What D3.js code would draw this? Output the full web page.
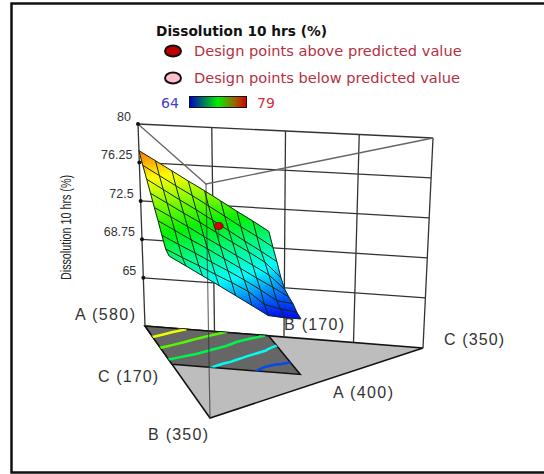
<!DOCTYPE html>
<html>
<head>
<meta charset="utf-8">
<script src="https://cdn.jsdelivr.net/npm/d3@7"></script>
<style>
  html, body { margin: 0; padding: 0; background: #fff; }
  svg { display: block; }
  text { font-family: "Liberation Sans", Arial, sans-serif; }
</style>
</head>
<body>
<div id="chart"></div>
<script>
// values
const zTicks = [65, 68.75, 72.5, 76.25, 80];
const wallC = [215, 260, 305];
const legendLabels = ['Design points above predicted value', 'Design points below predicted value'];
const legendRange = [64, 79];
const contourLevels = [75, 72.8, 70.5, 68.2, 66];

// constraint region on the floor (A, B, C)
const regionA = [580, 170, 170];
const regionB = [500, 170, 250];
const regionC = [422, 245, 253];
const regionD = [505, 245, 170];

// response on the region: rows go from regionA/regionB to regionD/regionC
const zGrid = [
  [77.4, 76.5, 75.6, 74.7, 73.85, 72.95, 72.05, 71.2, 70.3],
  [76.3, 75.4, 74.5, 73.65, 72.75, 71.85, 70.95, 70.1, 69.2],
  [75.3, 74.4, 73.5, 72.65, 71.75, 70.85, 69.95, 69.1, 68.2],
  [74.3, 73.45, 72.6, 71.8, 70.95, 70.1, 69.3, 68.45, 67.1],
  [73.3, 72.5, 71.7, 70.85, 70.05, 69.25, 68.45, 67.65, 66.4],
  [72.4, 71.6, 70.8, 70.05, 69.25, 68.45, 67.65, 66.9, 66.1],
  [71.4, 70.65, 69.95, 69.2, 68.5, 67.75, 66.95, 66.05, 65.9],
  [70.5, 69.8, 69.15, 68.45, 67.8, 67.1, 66.0, 65.7, 65.5],
  [70.2, 69.4, 68.6, 67.8, 67.0, 66.2, 65.4, 65.3, 65.3]
];

// the one design point
const designPoint = [503, 207, 210];
const designActual = 71.9;
const designPredicted = 70.6;

const width = 544;
const height = 474;
const zBase = 60.3;

// corners of the box in the picture
const floorPx = {a: [145, 326], b: [210, 418], c: [423, 348]};
const topPx = {a: [138, 124], b: [206, 184], c: [433, 138]};

const scaleA = d3.scaleLinear().domain([400, 580]).range([0, 1]);
const scaleB = d3.scaleLinear().domain([170, 350]).range([0, 1]);
const scaleC = d3.scaleLinear().domain([170, 350]).range([0, 1]);
const scaleZ = d3.scaleLinear().domain([zBase, 80]).range([0, 1]);

const color = d3.scaleLinear()
  .domain([65.2, 68, 71.5, 75.25, 79])
  .range(['#0000f0', '#00ffff', '#00f000', '#ffff00', '#ff0000'])
  .clamp(true);

function project(p, z) {
  const a = scaleA(p[0]), b = scaleB(p[1]), c = scaleC(p[2]), t = scaleZ(z);
  const mix = i => {
    const lo = a * floorPx.a[i] + b * floorPx.b[i] + c * floorPx.c[i];
    const hi = a * topPx.a[i] + b * topPx.b[i] + c * topPx.c[i];
    return lo + (hi - lo) * t;
  };
  return [mix(0), mix(1)];
}

// u runs along a row, v along a column, both 0..1
function regionPoint(u, v) {
  return [0, 1, 2].map(i =>
    (1 - v) * ((1 - u) * regionA[i] + u * regionB[i]) +
    v * ((1 - u) * regionD[i] + u * regionC[i]));
}

function gridZ(x, y) {
  const i = Math.min(Math.floor(x), 7), j = Math.min(Math.floor(y), 7);
  const fx = x - i, fy = y - j;
  return (1 - fy) * ((1 - fx) * zGrid[j][i] + fx * zGrid[j][i + 1]) +
    fy * ((1 - fx) * zGrid[j + 1][i] + fx * zGrid[j + 1][i + 1]);
}

const surfacePx = (x, y) => project(regionPoint(x / 8, y / 8), gridZ(x, y));

const line = d3.line();
const svg = d3.select('#chart').append('svg').attr('width', width).attr('height', height);

// frame is open on the right, it runs off the picture
svg.append('path').attr('d', 'M544,3.5H11.5V472.5H544')
  .attr('fill', 'none').attr('stroke', '#111').attr('stroke-width', 2.5);

// FLOOR
const floorVerts = [[580, 170, 170], [400, 350, 170], [400, 170, 350]];
svg.append('path')
  .attr('d', line(floorVerts.map(p => project(p, zBase))) + 'Z')
  .attr('fill', '#bdbdbd').attr('stroke', '#111').attr('stroke-width', 1.5);

svg.append('clipPath').attr('id', 'regionClip').append('path')
  .attr('d', line([regionA, regionB, regionC, regionD].map(p => project(p, zBase))) + 'Z');

svg.append('path')
  .attr('d', line([regionA, regionB, regionC, regionD].map(p => project(p, zBase))) + 'Z')
  .attr('fill', '#666').attr('stroke', '#111').attr('stroke-width', 1.5);

// contours of the response, the region's outer ring is clipped away
const flatZ = d3.merge(zGrid);
const contours = d3.contours().size([9, 9]).thresholds(contourLevels)(flatZ);
const contourPath = d3.geoPath(d3.geoTransform({
  point(x, y) {
    const q = project(regionPoint((x - 0.5) / 8, (y - 0.5) / 8), zBase);
    this.stream.point(q[0], q[1]);
  }
}));
svg.append('g').attr('clip-path', 'url(#regionClip)')
  .selectAll('path').data(contours).enter().append('path')
  .attr('d', contourPath)
  .attr('fill', 'none')
  .attr('stroke', d => color(d.value))
  .attr('stroke-width', 2.5);

// WALLS
const wallA = [580, 170, 170];
const wallEnd = [400, 170, 350];
const wall = svg.append('g').attr('fill', 'none').attr('stroke', '#333').attr('stroke-width', 1.3);

zTicks.forEach(z => {
  wall.append('path').attr('d', line([project(wallA, z), project(wallEnd, z)]));
});
wallC.forEach(c => {
  const p = [580 - (c - 170), 170, c];
  wall.append('path').attr('d', line([project(p, zBase), project(p, 80)]));
});
wall.append('path').attr('d', line([project(wallA, zBase), project(wallA, 80)]));
wall.append('path').attr('d', line([project(wallEnd, zBase), project(wallEnd, 80)]));
wall.append('path').attr('stroke', '#666')
  .attr('d', line([project(wallA, 80), project(floorVerts[1], 80), project(wallEnd, 80)]));

svg.append('g').selectAll('circle').data(zTicks).enter().append('circle')
  .attr('cx', d => project(wallA, d)[0])
  .attr('cy', d => project(wallA, d)[1])
  .attr('r', 2).attr('fill', '#111');

svg.append('g').selectAll('text').data(zTicks).enter().append('text')
  .attr('x', d => project(wallA, d)[0] - 7)
  .attr('y', d => project(wallA, d)[1] - 3)
  .attr('text-anchor', 'end')
  .attr('font-size', 12.5).attr('fill', '#333')
  .text(d => d);

svg.append('text')
  .attr('transform', 'translate(71,280) rotate(-90)')
  .attr('textLength', 105).attr('lengthAdjust', 'spacingAndGlyphs')
  .attr('font-size', 14).attr('fill', '#222')
  .text('Dissolution 10 hrs (%)');

// SURFACE
const sub = 4;
const surface = svg.append('g');
d3.range(8).forEach(j => d3.range(8).forEach(i => {
  d3.range(sub).forEach(n => d3.range(sub).forEach(m => {
    const x0 = i + m / sub, y0 = j + n / sub, s = 1 / sub;
    const fill = color(gridZ(x0 + s / 2, y0 + s / 2));
    surface.append('path')
      .attr('d', line([surfacePx(x0, y0), surfacePx(x0 + s, y0), surfacePx(x0 + s, y0 + s), surfacePx(x0, y0 + s)]) + 'Z')
      .attr('fill', fill).attr('stroke', fill).attr('stroke-width', 0.6);
  }));
}));

const mesh = svg.append('g').attr('fill', 'none').attr('stroke', '#0b2a14').attr('stroke-width', 1);
d3.range(9).forEach(k => {
  mesh.append('path').attr('d', line(d3.range(9).map(i => surfacePx(i, k))));
  mesh.append('path').attr('d', line(d3.range(9).map(j => surfacePx(k, j))));
});

// front edge runs over the surface
svg.append('path')
  .attr('d', line([project(floorVerts[1], 80), project(floorVerts[1], zBase)]))
  .attr('stroke', '#333').attr('stroke-width', 1.2).attr('stroke-opacity', 0.7).attr('fill', 'none');

// design point with its stem down to the surface
svg.append('path')
  .attr('d', line([project(designPoint, designActual), project(designPoint, designPredicted)]))
  .attr('stroke', '#2a7a3a').attr('stroke-width', 1).attr('fill', 'none');
svg.append('ellipse')
  .attr('cx', project(designPoint, designActual)[0])
  .attr('cy', project(designPoint, designActual)[1])
  .attr('rx', 4.5).attr('ry', 3.5)
  .attr('fill', '#d00000').attr('stroke', '#700000').attr('stroke-width', 0.8);

// CORNER LABELS
const cornerLabels = [
  {t: 'A (580)', x: 75, y: 320},
  {t: 'B (170)', x: 284, y: 330},
  {t: 'C (350)', x: 444, y: 345},
  {t: 'C (170)', x: 98, y: 382},
  {t: 'A (400)', x: 333, y: 398},
  {t: 'B (350)', x: 148, y: 440}
];
svg.append('g').selectAll('text').data(cornerLabels).enter().append('text')
  .attr('x', d => d.x).attr('y', d => d.y)
  .attr('textLength', 60).attr('lengthAdjust', 'spacing')
  .attr('font-size', 16).attr('fill', '#333')
  .text(d => d.t);

// LEGEND
const sans = '"DejaVu Sans", sans-serif';
svg.append('text').attr('x', 156).attr('y', 36)
  .style('font-family', sans).attr('font-size', 13.6).attr('font-weight', 'bold').attr('fill', '#111')
  .attr('textLength', 171).attr('lengthAdjust', 'spacingAndGlyphs')
  .text('Dissolution 10 hrs (%)');

const legendFill = ['#c00000', '#ffc0cb'];
legendLabels.forEach((label, i) => {
  const y = 51 + i * 27;
  svg.append('ellipse').attr('cx', 173).attr('cy', y).attr('rx', 8).attr('ry', 5.5)
    .attr('fill', legendFill[i]).attr('stroke', '#111').attr('stroke-width', 2);
  svg.append('text').attr('x', 194).attr('y', y + 5)
    .style('font-family', sans).attr('font-size', 14.6).attr('fill', '#b5303f')
    .text(label);
});

const gradient = svg.append('defs').append('linearGradient').attr('id', 'legendGradient');
[['0%', '#0000c0'], ['50%', '#00f000'], ['80%', '#a06000'], ['100%', '#d00000']].forEach(s => {
  gradient.append('stop').attr('offset', s[0]).attr('stop-color', s[1]);
});
svg.append('rect').attr('x', 189.5).attr('y', 96.5).attr('width', 57).attr('height', 11)
  .attr('fill', 'url(#legendGradient)').attr('stroke', '#111');
svg.append('text').attr('x', 161).attr('y', 108)
  .style('font-family', sans).attr('font-size', 14).attr('fill', '#4040c8').text(legendRange[0]);
svg.append('text').attr('x', 257).attr('y', 108)
  .style('font-family', sans).attr('font-size', 14).attr('fill', '#d03040').text(legendRange[1]);
</script>
</body>
</html>
